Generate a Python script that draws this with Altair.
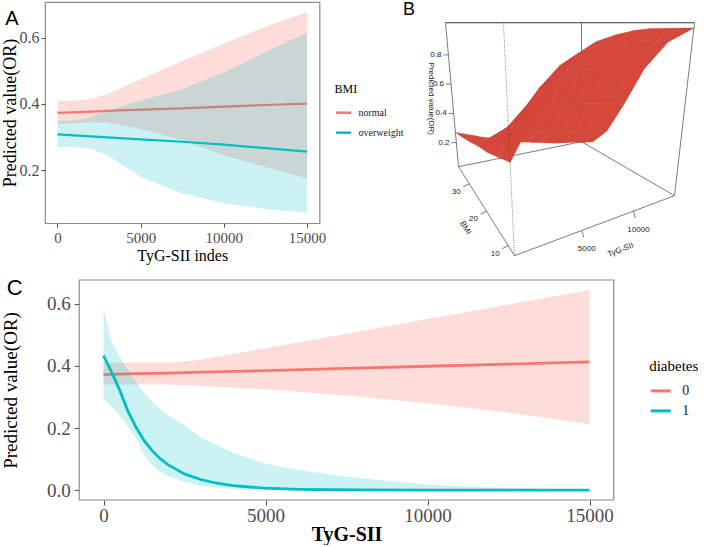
import altair as alt
import pandas as pd

RED = "#F8766D"
TEAL = "#00BFC4"
SERIF = "Liberation Serif"
SANS = "Liberation Sans"
FRAME = "#8c8c8c"

# ---------------- Panel A : BMI groups ----------------
A_TYG = [0, 1000, 2000, 3000, 5000, 7500, 10000, 12500, 15000]
A_NORMAL_FIT = [0.373, 0.375, 0.377, 0.379, 0.383, 0.387, 0.392, 0.397, 0.401]
A_NORMAL_LO = [0.340, 0.342, 0.345, 0.343, 0.325, 0.290, 0.245, 0.210, 0.175]
A_NORMAL_HI = [0.410, 0.410, 0.415, 0.430, 0.475, 0.530, 0.583, 0.633, 0.678]
A_OVER_FIT = [0.308, 0.305, 0.302, 0.299, 0.293, 0.286, 0.277, 0.267, 0.256]
A_OVER_LO = [0.270, 0.270, 0.265, 0.245, 0.180, 0.130, 0.100, 0.083, 0.071]
A_OVER_HI = [0.350, 0.350, 0.360, 0.380, 0.410, 0.445, 0.495, 0.557, 0.615]
A_GROUPS = ["normal", "overweight"]

# ---------------- Panel C : diabetes groups ----------------
C_TYG0 = [0, 1000, 2000, 3000, 5000, 7500, 10000, 12500, 15000]
C_D0_FIT = [0.372, 0.375, 0.377, 0.380, 0.385, 0.392, 0.399, 0.406, 0.413]
C_D0_LO = [0.340, 0.340, 0.340, 0.335, 0.325, 0.305, 0.280, 0.250, 0.213]
C_D0_HI = [0.410, 0.410, 0.410, 0.420, 0.457, 0.504, 0.551, 0.598, 0.645]
C_TYG1 = [0, 250, 500, 750, 1000, 1250, 1500, 1750, 2000, 2500, 3000, 3500, 4000,
          5000, 6000, 7000, 8000, 10000, 12500, 15000]
C_D1_FIT = [0.433, 0.380, 0.322, 0.255, 0.203, 0.160, 0.127, 0.101, 0.081, 0.052, 0.034,
            0.022, 0.014, 0.006, 0.0024, 0.001, 0.0004, 0.0001, 0.0, 0.0]
C_D1_LO = [0.295, 0.270, 0.240, 0.205, 0.170, 0.115, 0.080, 0.058, 0.045, 0.026, 0.014,
           0.008, 0.004, 0.001, 0.0, 0.0, 0.0, 0.0, 0.0, 0.0]
C_D1_HI = [0.585, 0.480, 0.430, 0.390, 0.350, 0.315, 0.285, 0.260, 0.240, 0.210, 0.170,
           0.145, 0.120, 0.085, 0.065, 0.050, 0.037, 0.018, 0.006, 0.002]
C_GROUPS = ["0", "1"]

# ---------------- Panel B : 3-D surface (rows = BMI, cols = TyG-SII) ----------------
B_TYG = [0, 1500, 3000, 4500, 6000, 7500, 9000, 10500, 12000, 13500, 15000]
B_BMI = [7.5, 12.5, 17.5, 22.5, 27.5, 32.5, 37.5]
B_Z = [
    [0.43, 0.60, 0.76, 0.87, 0.93, 0.96, 0.98, 0.99, 0.99, 0.99, 0.99],
    [0.40, 0.56, 0.70, 0.80, 0.86, 0.89, 0.90, 0.91, 0.91, 0.91, 0.90],
    [0.37, 0.48, 0.58, 0.66, 0.71, 0.74, 0.75, 0.75, 0.75, 0.74, 0.72],
    [0.35, 0.40, 0.44, 0.47, 0.49, 0.50, 0.50, 0.49, 0.48, 0.47, 0.45],
    [0.32, 0.32, 0.32, 0.31, 0.30, 0.29, 0.28, 0.27, 0.25, 0.23, 0.22],
    [0.295, 0.27, 0.245, 0.22, 0.19, 0.17, 0.15, 0.13, 0.12, 0.10, 0.09],
    [0.27, 0.23, 0.19, 0.16, 0.13, 0.11, 0.09, 0.07, 0.06, 0.05, 0.04],
]
B_TYG_TICKS = [5000, 10000]
B_BMI_TICKS = [10, 20, 30]
B_Z_TICKS = [0.2, 0.4, 0.6, 0.8]
B_TYG_RANGE = [0, 15000]
B_BMI_RANGE = [7.5, 37.5]
B_Z_RANGE = [0.036, 1.02]

# ---------------- layout constants ----------------
A_W, A_H = 274.5, 221.2
A_X0, A_Y0 = 43.5, 3.3          # page position of panel A plot area
C_FRAME_W, C_H = 534.6, 220.0   # visible frame of panel C
C_X0, C_Y0 = 43.8, 283.3        # origin of panel C view (shared column origin)
C_SHIFT = 34.2                  # frame of C starts this far right of its view origin
C_W = C_FRAME_W + C_SHIFT
C_XDOM = [-750 - 16500 * C_SHIFT / C_FRAME_W, 15750]

# perspective box of panel B (page pixels of the box corners)
BOX_BOT = {"F": (513, 257), "R": (673, 197), "L": (457, 168), "K": (580, 143)}
BOX_TOP = {"F": (502, 24), "R": (693, 24), "L": (444, 24), "K": (580, 24)}
KU, KV = 0.45, 0.40

# ======================= Panel A =======================
dfA = pd.DataFrame({
    "tyg": A_TYG * 2,
    "fit": A_NORMAL_FIT + A_OVER_FIT,
    "lo": A_NORMAL_LO + A_OVER_LO,
    "hi": A_NORMAL_HI + A_OVER_HI,
    "BMI": [A_GROUPS[0]] * len(A_TYG) + [A_GROUPS[1]] * len(A_TYG),
})
axA_x = alt.Axis(values=[0, 5000, 10000, 15000], format="d", title="TyG-SII indes",
                 labelFontSize=15, titleFontSize=16, tickSize=4, labelPadding=3, titlePadding=2)
axA_y = alt.Axis(values=[0.2, 0.4, 0.6], format=".1f", title="Predicted value(OR)",
                 labelFontSize=16, titleFontSize=18, tickSize=4, labelPadding=2,
                 minExtent=25.5, maxExtent=25.5, titlePadding=0)
scA_x = alt.Scale(domain=[-750, 15750], nice=False, zero=False)
scA_y = alt.Scale(domain=[0.040, 0.708], nice=False, zero=False)
colA = alt.Color("BMI:N", scale=alt.Scale(domain=A_GROUPS, range=[RED, TEAL]),
                 legend=alt.Legend(title="BMI", orient="none", legendX=289.5, legendY=81.7,
                                   titleFont=SERIF, titleFontSize=12, titleFontWeight="normal",
                                   titleColor="black", labelFont=SERIF, labelFontSize=10,
                                   labelColor="#222222", symbolType="stroke", symbolSize=225,
                                   symbolStrokeWidth=2.5, rowPadding=6, titlePadding=8,
                                   labelOffset=6, padding=0))

baseA = alt.Chart(dfA)
layersA = []
for g, c, op in zip(A_GROUPS, [RED, TEAL], [0.25, 0.2]):
    sub = baseA.transform_filter(alt.datum.BMI == g)
    layersA.append(sub.mark_area(fill=c, opacity=op).encode(
        x=alt.X("tyg:Q", scale=scA_x, axis=axA_x),
        y=alt.Y("lo:Q", scale=scA_y, axis=axA_y), y2="hi:Q"))
    layersA.append(sub.mark_line(strokeWidth=2.2).encode(
        x=alt.X("tyg:Q", scale=scA_x, axis=axA_x),
        y=alt.Y("fit:Q", scale=scA_y, axis=axA_y), color=colA))
letterA = alt.Chart(pd.DataFrame({"lab": ["A"]})).mark_text(
    font=SANS, fontSize=20, color="black").encode(
    text="lab:N", x=alt.value(10.5 - A_X0), y=alt.value(20 - A_Y0))
A_inner = alt.layer(*layersA, letterA)

# ======================= Panel B =======================
T0, T1 = B_TYG_RANGE
BM0, BM1 = B_BMI_RANGE
Z0, Z1 = B_Z_RANGE


def project(ch, t, b, z, sfx=""):
    ch = ch.transform_calculate(**{
        f"u{sfx}": f"(datum['{t}'] - {T0}) / {T1 - T0}",
        f"v{sfx}": f"(datum['{b}'] - {BM0}) / {BM1 - BM0}",
        f"w{sfx}": f"(datum['{z}'] - {Z0}) / {Z1 - Z0}",
    })
    ch = ch.transform_calculate(**{
        f"up{sfx}": f"datum.u{sfx} * {1 + KU} / (1 + {KU} * datum.u{sfx})",
        f"vp{sfx}": f"datum.v{sfx} * {1 + KV} / (1 + {KV} * datum.v{sfx})",
    })
    w = {
        "F": f"(1 - datum.up{sfx}) * (1 - datum.vp{sfx})",
        "R": f"datum.up{sfx} * (1 - datum.vp{sfx})",
        "L": f"(1 - datum.up{sfx}) * datum.vp{sfx}",
        "K": f"datum.up{sfx} * datum.vp{sfx}",
    }

    def comb(P, i):
        return "(" + " + ".join(f"{w[c]} * {P[c][i]}" for c in "FRLK") + ")"

    gx, gy, tx, ty = comb(BOX_BOT, 0), comb(BOX_BOT, 1), comb(BOX_TOP, 0), comb(BOX_TOP, 1)
    ch = ch.transform_calculate(**{
        f"px{sfx}": f"{gx} + datum.w{sfx} * ({tx} - {gx})",
        f"py{sfx}": f"{gy} + datum.w{sfx} * ({ty} - {gy})",
    })
    return ch


scB_x = alt.Scale(domain=[A_X0, A_X0 + A_W], nice=False, zero=False)
scB_y = alt.Scale(domain=[A_Y0, A_Y0 + A_H], nice=False, zero=False, reverse=True)
xB = alt.X("px:Q", scale=scB_x, axis=None)
yB = alt.Y("py:Q", scale=scB_y, axis=None)

corner = {"F": (T0, BM0), "R": (T1, BM0), "L": (T0, BM1), "K": (T1, BM1)}
solid_edges = [("L", Z0, "K", Z0), ("K", Z0, "R", Z0), ("F", Z0, "L", Z0), ("F", Z0, "R", Z0),
               ("L", Z0, "L", Z1), ("K", Z0, "K", Z1), ("R", Z0, "R", Z1),
               ("L", Z1, "K", Z1), ("K", Z1, "R", Z1), ("F", Z1, "L", Z1), ("F", Z1, "R", Z1)]
dotted_edges = [("F", Z0, "F", Z1)]


def edge_df(edges):
    return pd.DataFrame([{"t1": corner[a][0], "b1": corner[a][1], "z1": za,
                          "t2": corner[c][0], "b2": corner[c][1], "z2": zc}
                         for a, za, c, zc in edges])


def edge_chart(edges, **mk):
    ch = alt.Chart(edge_df(edges))
    ch = project(ch, "t1", "b1", "z1", "")
    ch = project(ch, "t2", "b2", "z2", "2")
    return ch.mark_rule(color="#444444", strokeWidth=0.7, **mk).encode(
        x=xB, y=yB, x2="px2:Q", y2="py2:Q")


box_back = edge_chart(solid_edges)
box_front = edge_chart(dotted_edges, strokeDash=[1, 1.5])

# surface quads, far ones first
nT, nB = len(B_TYG) - 1, len(B_BMI) - 1
quads = []
for i in range(nT):
    for j in range(nB):
        uc, vc = (i + 0.5) / nT, (j + 0.5) / nB
        quads.append((60 * uc + 89 * vc - 35 * uc * vc, i, j))
quads.sort(reverse=True)
rows = []
for rank, (_, i, j) in enumerate(quads):
    for k, (di, dj) in enumerate([(0, 0), (1, 0), (1, 1), (0, 1), (0, 0)]):
        rows.append({"qid": f"q{rank:03d}", "vid": k, "t": B_TYG[i + di],
                     "b": B_BMI[j + dj], "z": B_Z[j + dj][i + di]})
surface = project(alt.Chart(pd.DataFrame(rows)), "t", "b", "z").mark_line(
    fill="#d4473a", stroke="#c9412f", strokeWidth=0.35, strokeJoin="round").encode(
    x=xB, y=yB, detail="qid:N", order="vid:Q")

txt = dict(font=SANS, fontSize=8, color="#222222")

dz = pd.DataFrame({"t": T0, "b": BM1, "z": B_Z_TICKS, "lab": [f"{v:.1f}" for v in B_Z_TICKS]})
zproj = project(alt.Chart(dz), "t", "b", "z").transform_calculate(
    px2="datum.px - 5", py2="datum.py")
z_ticks = zproj.mark_rule(color="#444444", strokeWidth=0.7).encode(x=xB, y=yB, x2="px2:Q", y2="py2:Q")
z_labels = zproj.mark_text(align="right", baseline="middle", dx=-7, **txt).encode(x=xB, y=yB, text="lab:N")
z_title = project(alt.Chart(pd.DataFrame({"t": [T0], "b": [BM1], "z": [0.5], "lab": ["Predicted value(OR)"]})),
                  "t", "b", "z").mark_text(angle=90, dy=21, baseline="middle", align="center", **txt).encode(
    x=xB, y=yB, text="lab:N")

db = pd.DataFrame({"t": T0, "b": B_BMI_TICKS, "z": Z0, "lab": [str(v) for v in B_BMI_TICKS]})
bproj = project(alt.Chart(db), "t", "b", "z").transform_calculate(
    px2="datum.px - 6", py2="datum.py + 3")
bmi_ticks = bproj.mark_rule(color="#444444", strokeWidth=0.7).encode(x=xB, y=yB, x2="px2:Q", y2="py2:Q")
bmi_labels = bproj.mark_text(dx=-13, dy=8, baseline="middle", **txt).encode(x=xB, y=yB, text="lab:N")
# dx/dy of rotated text are given in the rotated frame
bmi_title = project(alt.Chart(pd.DataFrame({"t": [T0], "b": [22], "z": [Z0], "lab": ["BMI"]})),
                    "t", "b", "z").mark_text(angle=58, dx=10, dy=27, baseline="middle", **txt).encode(
    x=xB, y=yB, text="lab:N")

dt = pd.DataFrame({"t": B_TYG_TICKS, "b": BM0, "z": Z0, "lab": [str(v) for v in B_TYG_TICKS]})
tproj = project(alt.Chart(dt), "t", "b", "z").transform_calculate(
    px2="datum.px + 2", py2="datum.py + 7")
tyg_ticks = tproj.mark_rule(color="#444444", strokeWidth=0.7).encode(x=xB, y=yB, x2="px2:Q", y2="py2:Q")
tyg_labels = tproj.mark_text(dx=5, dy=19, baseline="middle", **txt).encode(x=xB, y=yB, text="lab:N")
tyg_title = project(alt.Chart(pd.DataFrame({"t": [9000], "b": [BM0], "z": [Z0], "lab": ["TyG-SII"]})),
                    "t", "b", "z").mark_text(angle=339, dx=-16, dy=32, baseline="middle", **txt).encode(
    x=xB, y=yB, text="lab:N")

letterB = alt.Chart(pd.DataFrame({"lab": ["B"]})).mark_text(
    font=SANS, fontSize=18, color="black").encode(
    text="lab:N", x=alt.value(407.5 - A_X0), y=alt.value(11.5 - A_Y0))

B_inner = alt.layer(box_back, surface, box_front, z_ticks, z_labels, z_title,
                    bmi_ticks, bmi_labels, bmi_title, tyg_ticks, tyg_labels, tyg_title, letterB)

top = alt.layer(A_inner, B_inner).resolve_scale(x="independent", y="independent").properties(
    width=A_W, height=A_H)

# ======================= Panel C =======================
dfC = pd.DataFrame({
    "tyg": C_TYG0 + C_TYG1,
    "fit": C_D0_FIT + C_D1_FIT,
    "lo": C_D0_LO + C_D1_LO,
    "hi": C_D0_HI + C_D1_HI,
    "diabetes": [C_GROUPS[0]] * len(C_TYG0) + [C_GROUPS[1]] * len(C_TYG1),
})
axC_x = alt.Axis(values=[0, 5000, 10000, 15000], format="d", title="TyG-SII",
                 labelFontSize=19, titleFontSize=20, titleFontWeight="bold", tickSize=5,
                 labelPadding=1, titlePadding=-1, titleX=C_SHIFT + C_FRAME_W / 2, titleAlign="center")
axC_y = alt.Axis(values=[0, 0.2, 0.4, 0.6], format=".1f", title="Predicted value(OR)",
                 labelFontSize=19, titleFontSize=19, tickSize=5, labelPadding=4,
                 minExtent=33, maxExtent=33, titlePadding=26, offset=-C_SHIFT)
scC_x = alt.Scale(domain=C_XDOM, nice=False, zero=False)
scC_y = alt.Scale(domain=[-0.032, 0.677], nice=False, zero=False)
colC = alt.Color("diabetes:N", scale=alt.Scale(domain=C_GROUPS, range=[RED, TEAL]),
                 legend=alt.Legend(title="diabetes", orient="none", legendX=648 - C_X0, legendY=79,
                                   titleFont=SERIF, titleFontSize=15, titleFontWeight="normal",
                                   titleColor="black", labelFont=SERIF, labelFontSize=14,
                                   labelColor="#222222", symbolType="stroke", symbolSize=400,
                                   symbolStrokeWidth=3, rowPadding=1, titlePadding=5.4,
                                   labelOffset=10, padding=0))

baseC = alt.Chart(dfC)
layersC = []
for g, c, op in zip(C_GROUPS, [RED, TEAL], [0.25, 0.2]):
    sub = baseC.transform_filter(alt.datum.diabetes == g)
    layersC.append(sub.mark_area(fill=c, opacity=op).encode(
        x=alt.X("tyg:Q", scale=scC_x, axis=axC_x),
        y=alt.Y("lo:Q", scale=scC_y, axis=axC_y), y2="hi:Q"))
    layersC.append(sub.mark_line(strokeWidth=2.8).encode(
        x=alt.X("tyg:Q", scale=scC_x, axis=axC_x),
        y=alt.Y("fit:Q", scale=scC_y, axis=axC_y), color=colC))
frameC = alt.Chart(pd.DataFrame({"k": [0]})).mark_rect(
    fill="transparent", stroke=FRAME, strokeWidth=1.2).encode(
    x=alt.value(C_SHIFT), x2=alt.value(C_W), y=alt.value(0), y2=alt.value(C_H))
letterC = alt.Chart(pd.DataFrame({"lab": ["C"]})).mark_text(
    font=SANS, fontSize=22, color="black").encode(
    text="lab:N", x=alt.value(13.5 - C_X0), y=alt.value(291.7 - C_Y0))
C_chart = alt.layer(frameC, *layersC, letterC).properties(
    width=C_W, height=C_H, view=alt.ViewBackground(stroke="transparent"))

chart = alt.vconcat(top, C_chart, spacing=12).resolve_scale(
    color="independent"
).properties(
    padding={"left": 0, "top": 0, "right": 0, "bottom": 0}
).configure(font=SERIF).configure_view(
    stroke=FRAME, strokeWidth=1.2
).configure_axis(
    grid=False, domain=False, labelColor="#4d4d4d", tickColor="#4d4d4d",
    titleColor="black", titleFontWeight="normal", labelFont=SERIF, titleFont=SERIF
).configure_legend(
    titleFont=SERIF, labelFont=SERIF
)

chart.save("out.html", embed_options={"renderer": "svg", "actions": False})
